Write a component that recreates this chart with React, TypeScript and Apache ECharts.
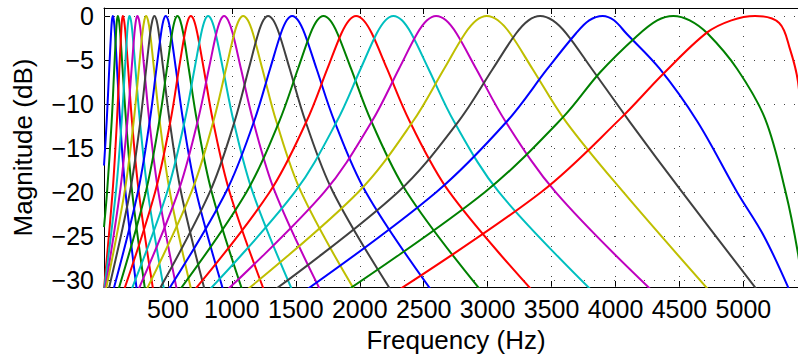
import React, { useEffect, useRef } from "react";
import * as echarts from "echarts";

// Tick values
const xTicks = [500, 1000, 1500, 2000, 2500, 3000, 3500, 4000, 4500, 5000];
const yTicks = [-30, -25, -20, -15, -10, -5, 0];

// MATLAB classic colour cycle b g r c m y k
const cycle = ["#0000ff", "#008000", "#ff0000", "#00bfbf", "#bf00bf", "#bfbf00", "#404040"];

// Filter responses: [frequency Hz, magnitude dB]
const c01 = [[0, -17], [21, -12], [41, -6], [55, -2], [62, -0.5], [69, 0], [77, -0.5], [86, -2], [102, -6], [126, -12], [168, -20], [255, -31]];
const c02 = [[0, -24], [24, -20], [60, -12], [80, -6], [94, -2], [101, -0.5], [108, 0], [117, -0.5], [127, -2], [145, -6], [173, -12], [220, -20], [320, -31]];
const c03 = [[0, -31], [67, -20], [101, -12], [120, -6], [134, -2], [140.5, -0.5], [147, 0], [157, -0.5], [168, -2], [189, -6], [219, -12], [272, -20], [383, -31]];
const c04 = [[2, -31], [93, -20], [138, -12], [164, -6], [181, -2], [190.4, -0.5], [199, 0], [210.6, -0.5], [223, -2], [246, -6], [281, -12], [342, -20], [468, -31]];
const c05 = [[9, -31], [125, -20], [183, -12], [216, -6], [238, -2], [250, -0.5], [261, 0], [274.3, -0.5], [289, -2], [315, -6], [355, -12], [425, -20], [568, -31]];
const c06 = [[16, -31], [161, -20], [232, -12], [273, -6], [300, -2], [315.4, -0.5], [329, 0], [344, -0.5], [361, -2], [391, -6], [436, -12], [515, -20], [680, -31]];
const c07 = [[38, -31], [203, -20], [284, -12], [330, -6], [361, -2], [378.5, -0.5], [394, 0], [411, -0.5], [429, -2], [463, -6], [514, -12], [602, -20], [785, -31]];
const c08 = [[76, -31], [265, -20], [357, -12], [410, -6], [446, -2], [465, -0.5], [483, 0], [502, -0.5], [523, -2], [562, -6], [620, -12], [721, -20], [929, -31]];
const c09 = [[115, -31], [327, -20], [432, -12], [492, -6], [532, -2], [554, -0.5], [574, 0], [595.8, -0.5], [620, -2], [663, -6], [728, -12], [842, -20], [1078, -31]];
const c10 = [[160, -31], [400, -20], [519, -12], [586, -6], [632, -2], [656.4, -0.5], [679, 0], [703.6, -0.5], [730, -2], [780, -6], [853, -12], [982, -20], [1247, -31]];
const c11 = [[218, -31], [494, -20], [630, -12], [708, -6], [760, -2], [788, -0.5], [814, 0], [842, -0.5], [873, -2], [930, -6], [1014, -12], [1162, -20], [1467, -31]];
const c12 = [[272, -31], [580, -20], [732, -12], [820, -6], [878, -2], [910, -0.5], [939, 0], [971, -0.5], [1007, -2], [1071, -6], [1168, -12], [1337, -20], [1686, -31]];
const c13 = [[336, -31], [684, -20], [855, -12], [954, -6], [1019, -2], [1055, -0.5], [1088, 0], [1125, -0.5], [1165, -2], [1238, -6], [1348, -12], [1541, -20], [1953, -31]];
const c14 = [[436, -31], [828, -20], [1021, -12], [1132, -6], [1206, -2], [1246, -0.5], [1283, 0], [1324, -0.5], [1369, -2], [1452, -6], [1576, -12], [1791, -20], [2236, -31]];
const c15 = [[509, -31], [954, -20], [1173, -12], [1299, -6], [1383, -2], [1429, -0.5], [1471, 0], [1518, -0.5], [1569, -2], [1662, -6], [1803, -12], [2047, -20], [2551, -31]];
const c16 = [[599, -31], [1115, -20], [1370, -12], [1517, -6], [1614, -2], [1667, -0.5], [1716, 0], [1769, -0.5], [1826, -2], [1932, -6], [2091, -12], [2367, -20], [2936, -31]];
const c17 = [[716, -31], [1296, -20], [1583, -12], [1747, -6], [1856, -2], [1916, -0.5], [1971, 0], [2030, -0.5], [2095, -2], [2213, -6], [2391, -12], [2700, -20], [3337, -31]];
const c18 = [[832, -31], [1493, -20], [1820, -12], [2007, -6], [2132, -2], [2200.5, -0.5], [2263, 0], [2330, -0.5], [2403, -2], [2537, -6], [2737, -12], [3087, -20], [3800, -31]];
const c19 = [[973, -31], [1724, -20], [2094, -12], [2307, -6], [2449, -2], [2526, -0.5], [2597, 0], [2674, -0.5], [2757, -2], [2910, -6], [3140, -12], [3530, -20], [4270, -31]];
const c20 = [[1128, -31], [1990, -20], [2415, -12], [2660, -6], [2823, -2], [2912, -0.5], [2993, 0], [3080, -0.5], [3176, -2], [3350, -6], [3612, -12], [4060, -20], [4720, -31]];
const c21 = [[1346, -31], [2300, -20], [2771, -12], [3041, -6], [3222, -2], [3320, -0.5], [3410, 0], [3509, -0.5], [3616, -2], [3814, -6], [4110, -12], [4520, -20], [5100, -31]];
const c22 = [[1594, -31], [2600, -20], [3150, -12], [3468, -6], [3690, -2], [3794, -0.5], [3900, 0], [3988, -0.5], [4085, -2], [4345, -6], [4640, -12], [4950, -20], [5160, -25], [5355, -31]];
const c23 = [[1920, -31], [2980, -20], [3590, -11.5], [3880, -6.4], [4166, -2.3], [4326, -0.5], [4452, 0], [4580, -0.5], [4720, -2], [4950, -6], [5170, -11.7], [5330, -20], [5427, -27], [5460, -31]];
const c24 = [[2318, -31], [3420, -20], [4036, -11.7], [4372, -6.6], [4714, -1.9], [4906, -0.5], [5091, 0], [5280, -0.8], [5365, -3.8], [5427, -7.5], [5480, -16]];

const curves = [c01, c02, c03, c04, c05, c06, c07, c08, c09, c10, c11, c12, c13, c14, c15, c16, c17, c18, c19, c20, c21, c22, c23, c24];

const X_MAX = 5427;
const Y_MIN = -30.8;
const Y_MAX = 0.9;

export default function App() {
  const ref = useRef<HTMLDivElement>(null);
  useEffect(() => {
    if (!ref.current) return;
    const chart = echarts.init(ref.current, null, { renderer: "svg" });
    const font = '"Liberation Sans", Arial, Helvetica, sans-serif';
    const fmt = (v: number) => (v < 0 ? "\u2212" + Math.abs(v) : String(v));
    const axisLine = { show: true, onZero: false, lineStyle: { color: "#000", width: 1 } };
    const dotted = { color: "#444", width: 1, type: [1, 9] as any };
    chart.setOption({
      animation: false,
      backgroundColor: "#ffffff",
      grid: { left: 104, right: 0, top: 8, bottom: 71, containLabel: false },
      xAxis: [
        {
          type: "value",
          min: 0,
          max: X_MAX,
          position: "bottom",
          name: "Frequency (Hz)",
          nameLocation: "middle",
          nameGap: 40,
          nameTextStyle: { fontSize: 26, color: "#000", fontFamily: font, padding: [0, 0, 0, 10] },
          axisLine,
          axisTick: { show: true, inside: true, length: 6, customValues: xTicks, lineStyle: { color: "#000" } },
          axisLabel: { show: true, customValues: xTicks, formatter: fmt, fontSize: 25, color: "#000", fontFamily: font, margin: 9 },
          splitLine: { show: false },
        },
        {
          type: "value",
          min: 0,
          max: X_MAX,
          position: "top",
          axisLine,
          axisTick: { show: true, inside: true, length: 6, customValues: xTicks, lineStyle: { color: "#000" } },
          axisLabel: { show: false },
          splitLine: { show: false },
        },
      ],
      yAxis: {
        type: "value",
        min: Y_MIN,
        max: Y_MAX,
        position: "left",
        name: "Magnitude (dB)",
        nameLocation: "middle",
        nameGap: 68,
        nameTextStyle: { fontSize: 26, color: "#000", fontFamily: font },
        axisLine,
        axisTick: { show: true, inside: true, length: 6, customValues: yTicks, lineStyle: { color: "#000" } },
        axisLabel: { show: true, customValues: yTicks, formatter: fmt, fontSize: 25, color: "#000", fontFamily: font, margin: 10 },
        splitLine: { show: false },
      },
      series: [
        {
          type: "line",
          data: [[0, -100]],
          symbol: "none",
          silent: true,
          lineStyle: { width: 0 },
          z: 1,
          markLine: {
            silent: true,
            symbol: "none",
            z: 1,
            label: { show: false },
            lineStyle: dotted,
            emphasis: { disabled: true },
            data: [
              ...xTicks.map((v) => ({ xAxis: v })),
              ...yTicks.map((v) => ({ yAxis: v })),
            ],
          },
        },
        ...curves.map((d, i) => ({
          type: "line",
          data: d,
          symbol: "none",
          showSymbol: false,
          smooth: 0.35,
          clip: true,
          silent: true,
          z: 2,
          lineStyle: { color: cycle[i % 7], width: 2 },
          itemStyle: { color: cycle[i % 7] },
        })),
      ],
    });
    return () => chart.dispose();
  }, []);
  return (
    <div
      ref={ref}
      style={{ position: "fixed", left: 0, top: 0, width: 798, height: 358, background: "#fff" }}
    />
  );
}
